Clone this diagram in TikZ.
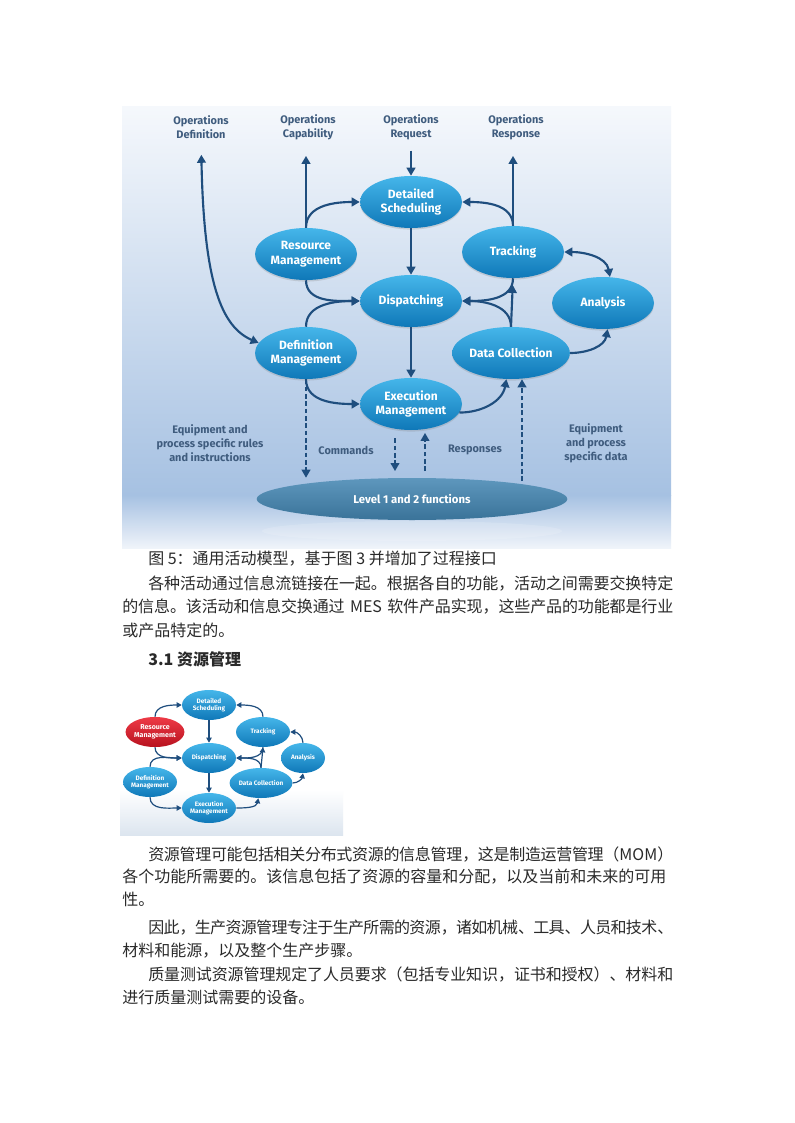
\documentclass[tikz,border=0pt]{standalone}
\usepackage{fontspec}
\setmainfont{Noto Sans CJK SC}
\newfontfamily\dfont{Fira Sans}
\usetikzlibrary{shapes.geometric,arrows.meta,shadows}
\definecolor{ntop}{HTML}{45B6EA}
\definecolor{nmid}{HTML}{1E9BD9}
\definecolor{nbot}{HTML}{0F78B8}
\definecolor{rtop}{HTML}{EE3A46}
\definecolor{rbot}{HTML}{B8121F}
\definecolor{arrc}{HTML}{1F4E7E}
\definecolor{lbl}{HTML}{3F5C7E}
\definecolor{bgtop}{HTML}{F5F8FC}
\definecolor{bgmid}{HTML}{A6C1E2}
\definecolor{bgbot}{HTML}{F0F4FA}
\definecolor{lvltop}{HTML}{5E97BD}
\definecolor{lvlbot}{HTML}{3A7399}
\definecolor{bodyc}{HTML}{2A2A2A}
\definecolor{smbg}{HTML}{DCE5EF}
\newcommand\fl[1]{\XeTeXlinebreaklocale "zh"\XeTeXlinebreakskip=0pt plus 1.5pt minus 0.8pt\relax\XeTeXlinebreakpenalty=10000\relax\parfillskip=0pt\relax\noindent#1\par}
\tikzset{
 mnode/.style={ellipse, minimum width=76.5pt, minimum height=39pt, inner sep=0pt,
   top color=ntop, middle color=nmid, bottom color=nbot, text=white,
   font=\dfont\bfseries\fontsize{9}{10.8}\selectfont, align=center,
   drop shadow={shadow xshift=0pt,shadow yshift=-1.2pt,opacity=0.25}},
 snode/.style={ellipse, minimum width=40.5pt, minimum height=22.5pt, inner sep=0pt,
   top color=ntop, middle color=nmid, bottom color=nbot, text=white,
   font=\dfont\bfseries\fontsize{4.8}{5.6}\selectfont, align=center},
 lab/.style={font=\dfont\bfseries\fontsize{8.2}{10.5}\selectfont, text=lbl, align=center, inner sep=0pt},
 arr/.style={draw=arrc, line width=1.6pt, -{Triangle[length=6pt,width=6.5pt]}},
 darr/.style={draw=arrc, line width=1.6pt, {Triangle[length=6pt,width=6.5pt]}-{Triangle[length=6pt,width=6.5pt]}},
 dsh/.style={draw=arrc, line width=1.3pt, dash pattern=on 3.5pt off 2pt, -{Triangle[length=6pt,width=6.5pt]}},
 sarr/.style={draw=arrc, line width=0.9pt, -{Triangle[length=3.8pt,width=4pt]}},
 body/.style={font=\fontsize{12}{16}\selectfont, text=bodyc, inner sep=0pt, anchor=west},
}
\begin{document}
\begin{tikzpicture}[x=0.75pt,y=-0.75pt]
\useasboundingbox (0,0) rectangle (794,1123);
\fill[white] (0,0) rectangle (794,1123);
% ---------- main figure background
\shade[top color=bgtop, bottom color=bgmid] (122,107) rectangle (671,495);
\shade[top color=bgmid, bottom color=bgbot] (122,495) rectangle (671,548.5);
% ---------- top labels
\node[lab] (opdef) at (201,127) {Operations\\Definition};
\node[lab] (opcap) at (308,127) {Operations\\Capability};
\node[lab] (opreq) at (411,127) {Operations\\Request};
\node[lab] (opresp) at (516,127) {Operations\\Response};
% ---------- activity nodes
\node[mnode] (ds) at (411,202) {Detailed\\Scheduling};
\node[mnode] (rm) at (306,254) {Resource\\Management};
\node[mnode] (trk) at (513,252) {Tracking};
\node[mnode] (dis) at (411,301) {Dispatching};
\node[mnode] (an) at (603,303) {Analysis};
\node[mnode] (dm) at (306,353) {Definition\\Management};
\node[mnode] (dc) at (511,353) {Data Collection};
\node[mnode] (exe) at (411,404) {Execution\\Management};
% reflection + level 1/2
\fill[white, opacity=0.15] (412,531) ellipse [x radius=150, y radius=10];
\node[ellipse, minimum width=233pt, minimum height=31.5pt, inner sep=0pt,
  top color=lvltop, bottom color=lvlbot, text=white,
  font=\dfont\bfseries\fontsize{8.5}{10}\selectfont] (lvl) at (412,499) {Level 1 and 2 functions};
% ---------- side labels
\node[lab] (eqr) at (210,443) {Equipment and\\process specific rules\\and instructions};
\node[lab] (cmd) at (346,450) {Commands};
\node[lab] (rsp) at (475,450) {Responses};
\node[lab] (eqd) at (596,443) {Equipment\\and process\\specific data};
% ---------- connectors
\draw[darr, shorten <=12pt] (opdef.south) .. controls (204,285) and (222,327) .. (dm.168);
\draw[arr, shorten >=12pt] (rm.north) -- (rm.north |- opcap.south);
\draw[arr] (rm.north) to[out=90,in=180] (ds.west);
\draw[arr] (rm.south) to[out=-90,in=180] (dis.west);
\draw[arr] (dm.north) to[out=90,in=180] (dis.west);
\draw[arr] (dm.south) to[out=-90,in=180] (exe.west);
\draw[arr, shorten <=8pt] (opreq.south) -- (ds.north);
\draw[arr] (ds.south) -- (dis.north);
\draw[arr] (dis.south) -- (exe.north);
\draw[arr, shorten >=12pt] (trk.north) -- (trk.north |- opresp.south);
\draw[arr] (trk.north) to[out=90,in=0] (ds.east);
\draw[arr] (trk.south) to[out=-90,in=0] (dis.east);
\draw[arr] (dc.north) to[out=90,in=0] (dis.east);
\draw[arr, shorten >=5pt] (dc.north) -- (trk.south);
\draw[darr] (trk.east) to[out=0,in=100] (an.75);
\draw[arr] (exe.-10) to[out=0,in=-100] (dc.-100);
\draw[arr] (dc.east) to[out=0,in=-100] (an.-80);
\draw[dsh] (dm.south) -- (dm.south |- lvl.north);
\draw[dsh, shorten <=6pt, shorten >=5pt] ([xshift=-12pt]exe.south) -- ([xshift=-12pt]exe.south |- lvl.north);
\draw[dsh, shorten <=5pt, shorten >=2pt] ([xshift=10.5pt]exe.south |- lvl.north) -- ([xshift=10.5pt]exe.south);
\coordinate (eqdb) at (522,481);
\draw[dsh] (eqdb) -- (eqdb |- dc.south);
% ---------- text block 1
\node[body] (t1) at (148,559) {图 5：通用活动模型，基于图 3 并增加了过程接口};
\node[body, text width=393.75pt] (t2) at (148,584) {\fl{各种活动通过信息流链接在一起。根据各自的功能，活动之间需要交换特定}};
\node[body, text width=413.25pt] (t3) at (122,607) {\fl{的信息。该活动和信息交换通过~MES~软件产品实现，这些产品的功能都是行业}};
\node[body] (t4) at (122,630) {或产品特定的。};
\node[body, font=\bfseries\fontsize{12}{16}\selectfont] (t5) at (148,659) {3.1 资源管理};
% ---------- small figure
\fill[white] (120,683) rectangle (343,835);
\shade[top color=white, bottom color=smbg] (120,790) rectangle (343,835);
\node[snode] (ds2) at (209,705) {Detailed\\Scheduling};
\node[snode, top color=rtop, middle color=rtop!70!rbot, bottom color=rbot, font=\dfont\bfseries\fontsize{5.3}{6.2}\selectfont] (rm2) at (155,732) {Resource\\Management};
\node[snode] (tr2) at (263,732) {Tracking};
\node[snode] (di2) at (209,758) {Dispatching};
\node[snode, minimum width=33pt] (an2) at (303,758) {Analysis};
\node[snode] (dm2) at (150,782) {Definition\\Management};
\node[snode] (dc2) at (261,783) {Data Collection};
\node[snode] (ex2) at (209,808) {Execution\\Management};
\draw[sarr] (rm2.north) to[out=90,in=180] (ds2.west);
\draw[sarr] (rm2.south) to[out=-90,in=180] (di2.west);
\draw[sarr] (dm2.north) to[out=90,in=180] (di2.west);
\draw[sarr] (dm2.south) to[out=-90,in=180] (ex2.west);
\draw[sarr] (ds2.south) -- (di2.north);
\draw[sarr] (di2.south) -- (ex2.north);
\draw[sarr] (tr2.north) to[out=90,in=0] (ds2.east);
\draw[sarr] (tr2.south) to[out=-90,in=0] (di2.east);
\draw[sarr] (dc2.north) to[out=90,in=0] (di2.east);
\draw[sarr] (dc2.north) -- (tr2.south);
\draw[sarr] (ex2.east) to[out=0,in=-100] (dc2.-100);
\draw[sarr] (dc2.east) to[out=0,in=-100] (an2.-90);
\draw[sarr] (an2.north) to[out=90,in=0] (tr2.east);
% ---------- text block 2
\node[body, text width=393.75pt] (p1) at (148,854) {\fl{资源管理可能包括相关分布式资源的信息管理，这是制造运营管理（MOM）}};
\node[body] (p2) at (122,877) {各个功能所需要的。该信息包括了资源的容量和分配，以及当前和未来的可用};
\node[body] (p3) at (122,899) {性。};
\node[body, text width=393.75pt] (p4) at (148,928) {\fl{因此，生产资源管理专注于生产所需的资源，诸如机械、工具、人员和技术、}};
\node[body] (p5) at (122,951) {材料和能源，以及整个生产步骤。};
\node[body, text width=393.75pt] (p6) at (148,974) {\fl{质量测试资源管理规定了人员要求（包括专业知识，证书和授权）、材料和}};
\node[body] (p7) at (122,997) {进行质量测试需要的设备。};
\end{tikzpicture}
\end{document}
